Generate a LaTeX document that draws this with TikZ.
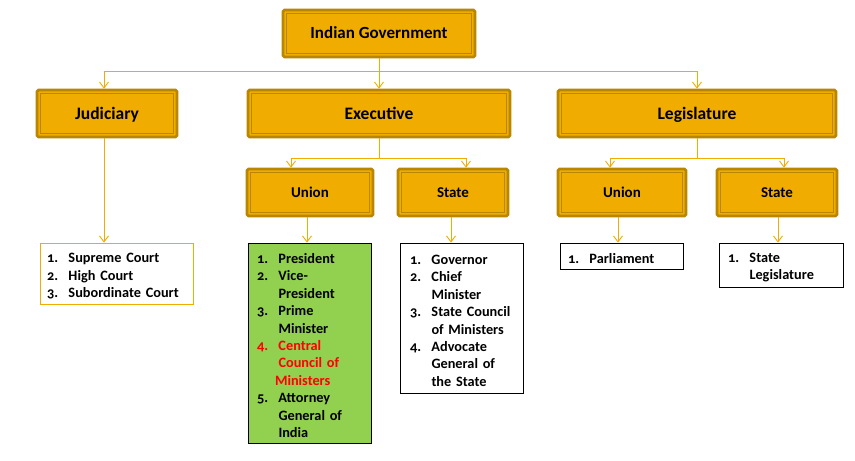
\documentclass[tikz,border=0pt]{standalone}
\usepackage{fontspec}
\setmainfont{Carlito}
\newfontfamily\onumfont[Numbers=OldStyle]{Carlito}
\usetikzlibrary{arrows.meta}
\definecolor{gold}{RGB}{240,173,0}
\definecolor{golddk}{RGB}{184,134,0}
\definecolor{lgreen}{RGB}{146,208,80}
\newcommand\itm[1]{\makebox[21.5pt][l]{\onumfont #1.}}
\newcommand\cnt{\hspace*{21.5pt}}
\tikzset{
  hdr/.style={draw=golddk, line width=2.6pt, fill=gold, rounded corners=1.5pt,
    minimum height=47pt, inner sep=0pt, text height=11.3pt, text depth=0pt,
    font=\bfseries\fontsize{17.5}{20}\selectfont,
    path picture={\draw[golddk, line width=0.7pt, sharp corners]
      ([shift={(3.8pt,-3.8pt)}]path picture bounding box.north west) rectangle
      ([shift={(-3.8pt,3.8pt)}]path picture bounding box.south east);}},
  sub/.style={hdr, text height=9.7pt, font=\bfseries\fontsize{15}{18}\selectfont},
  lst/.style={draw=black, line width=0.8pt, fill=white, align=left, inner xsep=0pt, inner ysep=0pt,
    execute at begin node={\rule{0pt}{15pt}},
    font=\bfseries\fontsize{14.3}{17.4}\selectfont},
  conn/.style={draw=gold, line width=0.9pt},
  arr/.style={conn, -{Straight Barb[length=6pt,width=9pt]}}
}
\begin{document}
\begin{tikzpicture}[x=1pt,y=-1pt]
\useasboundingbox (0,0) rectangle (855,461);
% headers
\node[hdr, minimum width=192pt, text height=10.9pt, font=\bfseries\fontsize{17}{20}\selectfont] (gov) at (379,33.5) {Indian Government};
\node[hdr, minimum width=140pt] (jud) at (107,113.5) {Judiciary};
\node[hdr, minimum width=262pt] (exe) at (379,113.5) {Executive};
\node[hdr, minimum width=278pt] (leg) at (697,113.5) {Legislature};
\node[sub, minimum width=126pt] (eu) at (310,192.5) {Union};
\node[sub, minimum width=110pt] (es) at (453,192.5) {State};
\node[sub, minimum width=128pt] (lu) at (622,192.5) {Union};
\node[sub, minimum width=120pt] (ls) at (777,192.5) {State};
% lists
\node[lst, draw=gold, minimum width=153pt, minimum height=61pt, text width=139pt] (jl) at (116.5,273.5)
  {\itm{1}Supreme Court\\ \itm{2}High Court\\ \itm{3}Subordinate Court};
\node[lst, fill=lgreen, minimum width=123pt, minimum height=200pt, text width=105pt] (eul) at (309.5,343)
  {\itm{1}President\\ \itm{2}Vice-\\ \cnt President\\ \itm{3}Prime\\ \cnt Minister\\
   \textcolor{red}{\itm{4}Central}\\ \textcolor{red}{\cnt Council of}\\ \textcolor{red}{\hspace*{18pt}Ministers}\\
   \itm{5}Attorney\\ \cnt General of\\ \cnt India};
\node[lst, minimum width=123pt, minimum height=150pt, text width=103pt] (esl) at (461.5,318)
  {\itm{1}Governor\\ \itm{2}Chief\\ \cnt Minister\\ \itm{3}State Council\\ \cnt of Ministers\\
   \itm{4}Advocate\\ \cnt General of\\ \cnt the State};
\node[lst, minimum width=123pt, minimum height=26pt, text width=107pt] (lul) at (621.5,256)
  {\itm{1}Parliament};
\node[lst, minimum width=124pt, minimum height=44pt, text width=106pt] (lsl) at (781,265)
  {\itm{1}State\\ \cnt Legislature};
% connectors
\draw[conn] (gov.south) -- ++(0,13) coordinate (gb);
\draw[arr] (gb) -| ([xshift=-3pt]jud.north);
\draw[arr] (gb) -- (exe.north);
\draw[arr] (gb) -| (leg.north);
\draw[conn] (exe.south) -- ++(0,20) coordinate (eb);
\draw[arr] (eb) -| ([xshift=-19pt]eu.north);
\draw[arr] (eb) -| ([xshift=13pt]es.north);
\draw[conn] (leg.south) -- ++(0,20) coordinate (lb);
\draw[arr] (lb) -| ([xshift=-12pt]lu.north);
\draw[arr] (lb) -| ([xshift=7pt]ls.north);
\draw[arr] ([xshift=-3pt]jud.south) -- ([xshift=-3pt]jud.south |- jl.north);
\draw[arr] ([xshift=-3pt]eu.south) -- ([xshift=-3pt]eu.south |- eul.north);
\draw[arr] ([xshift=-2pt]es.south) -- ([xshift=-2pt]es.south |- esl.north);
\draw[arr] ([xshift=-4pt]lu.south) -- ([xshift=-4pt]lu.south |- lul.north);
\draw[arr] ([xshift=1pt]ls.south) -- ([xshift=1pt]ls.south |- lsl.north);
\end{tikzpicture}
\end{document}
